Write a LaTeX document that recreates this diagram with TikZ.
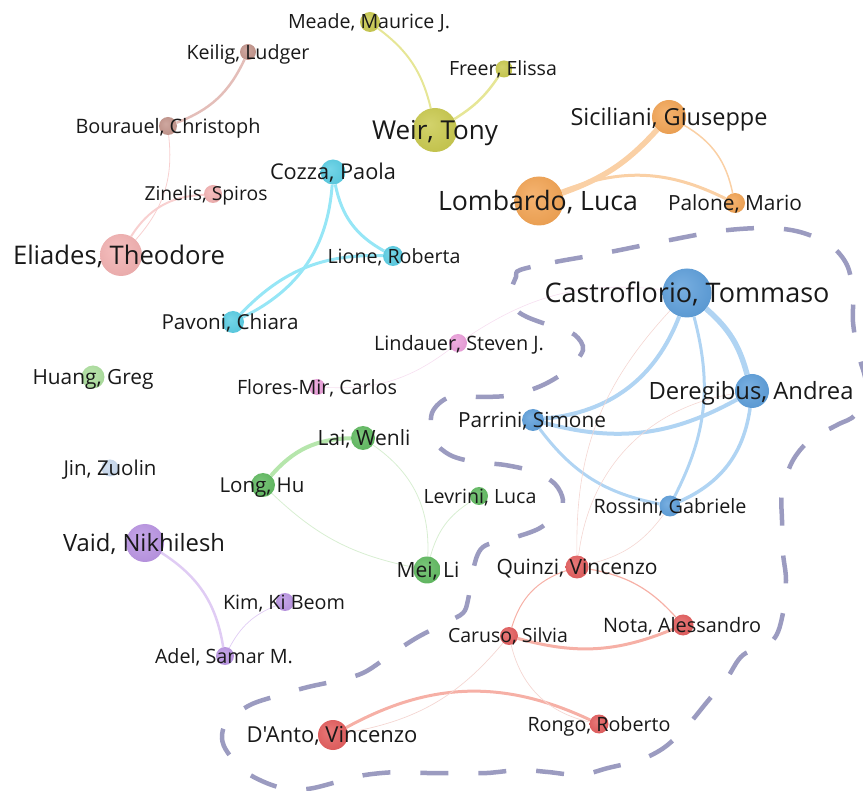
\documentclass[tikz,border=0pt]{standalone}
\usepackage{fontspec}
\setmainfont{Open Sans}[Ligatures=TeXOff]
\definecolor{cYel}{RGB}{198,198,66}
\definecolor{cYelE}{RGB}{230,230,150}
\definecolor{cBrn}{RGB}{192,142,132}
\definecolor{cBrnE}{RGB}{228,190,185}
\definecolor{cPnk}{RGB}{242,172,172}
\definecolor{cPnkE}{RGB}{248,208,208}
\definecolor{cCyn}{RGB}{78,202,226}
\definecolor{cCynE}{RGB}{150,230,246}
\definecolor{cOrg}{RGB}{242,158,72}
\definecolor{cOrgE}{RGB}{250,208,165}
\definecolor{cBlu}{RGB}{82,152,216}
\definecolor{cBluE}{RGB}{176,212,243}
\definecolor{cMag}{RGB}{234,152,216}
\definecolor{cMagE}{RGB}{246,222,240}
\definecolor{cLgr}{RGB}{168,222,152}
\definecolor{cGrn}{RGB}{86,182,86}
\definecolor{cGrnE}{RGB}{182,230,172}
\definecolor{cGrnF}{RGB}{216,238,210}
\definecolor{cLbl}{RGB}{198,216,238}
\definecolor{cPur}{RGB}{182,142,226}
\definecolor{cPurE}{RGB}{224,204,244}
\definecolor{cRed}{RGB}{226,82,82}
\definecolor{cRedE}{RGB}{246,176,166}
\definecolor{cRedF}{RGB}{244,214,210}
\definecolor{cHull}{RGB}{155,155,192}
\definecolor{cTxt}{RGB}{25,25,25}
\colorlet{bubin}{white}
\colorlet{bubout}{black}
\pgfdeclareradialshading[bubin,bubout]{bubsh}{\pgfpoint{-7bp}{7bp}}{color(0bp)=(bubin); color(42bp)=(bubout); color(50bp)=(bubout)}
\pgfdeclarelayer{edges}
\pgfsetlayers{edges,main}
\tikzset{
  bub/.style={circle, inner sep=0pt, minimum size=#1},
  sh/.style={/utils/exec={\colorlet{bubin}{#1!78!white}\colorlet{bubout}{#1!94!black}}, shading=bubsh},
  lbl/.style={inner sep=0pt, text=cTxt},
  lnk/.style={line width=#1},
  hull/.style={draw=cHull, line width=4.5pt, dash pattern=on 28pt off 30pt}
}
\newlength\lblw
% measure: key, target width, text
\newcommand\mkfs[3]{%
  \settowidth\lblw{\fontsize{20pt}{24pt}\selectfont #3}%
  \pgfmathsetmacro\tmpfs{20*#2/\lblw}%
  \expandafter\xdef\csname fs@#1\endcsname{\tmpfs}}
% label: key, x, y, text
\newcommand\lbl[4]{%
  \edef\lblfs{\csname fs@#1\endcsname}%
  \pgfmathsetmacro\lbly{#3+0.357*\lblfs}%
  \node[lbl, font=\fontsize{\lblfs pt}{\lblfs pt}\selectfont, anchor=base] (t#1) at (#2,\lbly) {#4};}
\begin{document}
\mkfs{meade}{162}{Meade, Maurice J.}%
\mkfs{keilig}{123}{Keilig, Ludger}%
\mkfs{weir}{126}{Weir, Tony}%
\mkfs{freer}{108}{Freer, Elissa}%
\mkfs{bour}{185}{Bourauel, Christoph}%
\mkfs{sic}{197}{Siciliani, Giuseppe}%
\mkfs{cozza}{126}{Cozza, Paola}%
\mkfs{zin}{123}{Zinelis, Spiros}%
\mkfs{lomb}{200}{Lombardo, Luca}%
\mkfs{pal}{134}{Palone, Mario}%
\mkfs{eli}{212}{Eliades, Theodore}%
\mkfs{lione}{133}{Lione, Roberta}%
\mkfs{cast}{285}{Castroflorio, Tommaso}%
\mkfs{pav}{137}{Pavoni, Chiara}%
\mkfs{lind}{170}{Lindauer, Steven J.}%
\mkfs{huang}{121}{Huang, Greg}%
\mkfs{flor}{160}{Flores-Mir, Carlos}%
\mkfs{dere}{205}{Deregibus, Andrea}%
\mkfs{parr}{148}{Parrini, Simone}%
\mkfs{lai}{93}{Lai, Wenli}%
\mkfs{jin}{93}{Jin, Zuolin}%
\mkfs{long}{85}{Long, Hu}%
\mkfs{lev}{113}{Levrini, Luca}%
\mkfs{ross}{153}{Rossini, Gabriele}%
\mkfs{vaid}{162}{Vaid, Nikhilesh}%
\mkfs{mei}{63}{Mei, Li}%
\mkfs{quin}{161}{Quinzi, Vincenzo}%
\mkfs{kim}{122}{Kim, Ki Beom}%
\mkfs{nota}{158}{Nota, Alessandro}%
\mkfs{car}{120}{Caruso, Silvia}%
\mkfs{adel}{138}{Adel, Samar M.}%
\mkfs{dant}{171}{D'Anto, Vincenzo}%
\mkfs{rongo}{143}{Rongo, Roberto}%
\begin{tikzpicture}[x=1pt,y=-1pt]
\useasboundingbox (0,0) rectangle (863,791);
% bubbles
\node[bub=20, sh=cYel] (meade) at (370,22) {};
\node[bub=16, sh=cBrn] (keilig) at (248,52) {};
\node[bub=44, sh=cYel] (weir) at (435,130) {};
\node[bub=17, sh=cYel] (freer) at (504,69) {};
\node[bub=18, sh=cBrn] (bour) at (168,126) {};
\node[bub=34, sh=cOrg] (sic) at (669,117) {};
\node[bub=25, sh=cCyn] (cozza) at (333,172) {};
\node[bub=18, sh=cPnk] (zin) at (213,194) {};
\node[bub=49, sh=cOrg] (lomb) at (539,201) {};
\node[bub=20, sh=cOrg] (pal) at (735,203) {};
\node[bub=42, sh=cPnk] (eli) at (121,255) {};
\node[bub=20, sh=cCyn] (lione) at (393,256) {};
\node[bub=49, sh=cBlu] (cast) at (687,293) {};
\node[bub=22, sh=cCyn] (pav) at (233,322) {};
\node[bub=18, sh=cMag] (lind) at (458,343) {};
\node[bub=23, sh=cLgr] (huang) at (93,377) {};
\node[bub=16, sh=cMag] (flor) at (317,387) {};
\node[bub=34, sh=cBlu] (dere) at (752,391) {};
\node[bub=22, sh=cBlu] (parr) at (533,420) {};
\node[bub=24, sh=cGrn] (lai) at (363,438) {};
\node[bub=17, sh=cLbl] (jin) at (110,468) {};
\node[bub=24, sh=cGrn] (long) at (263,485) {};
\node[bub=18, sh=cGrn] (lev) at (479,496) {};
\node[bub=21, sh=cBlu] (ross) at (670,506) {};
\node[bub=38, sh=cPur] (vaid) at (145,543) {};
\node[bub=27, sh=cGrn] (mei) at (427,570) {};
\node[bub=23, sh=cRed] (quin) at (577,567) {};
\node[bub=18, sh=cPur] (kim) at (285,602) {};
\node[bub=21, sh=cRed] (nota) at (683,625) {};
\node[bub=18, sh=cRed] (car) at (509,636) {};
\node[bub=18, sh=cPur] (adel) at (225,656) {};
\node[bub=30, sh=cRed] (dant) at (333,735) {};
\node[bub=19, sh=cRed] (rongo) at (599,724) {};
% labels
\lbl{meade}{369}{22}{Meade, Maurice J.}
\lbl{keilig}{248}{52}{Keilig, Ludger}
\lbl{weir}{435}{130}{Weir, Tony}
\lbl{freer}{503}{69}{Freer, Elissa}
\lbl{bour}{168}{126}{Bourauel, Christoph}
\lbl{sic}{669}{117}{Siciliani, Giuseppe}
\lbl{cozza}{333}{172}{Cozza, Paola}
\lbl{zin}{206}{194}{Zinelis, Spiros}
\lbl{lomb}{538}{201}{Lombardo, Luca}
\lbl{pal}{735}{203}{Palone, Mario}
\lbl{eli}{119}{255}{Eliades, Theodore}
\lbl{lione}{394}{256}{Lione, Roberta}
\lbl{cast}{687}{293}{Castroflorio, Tommaso}
\lbl{pav}{230}{322}{Pavoni, Chiara}
\lbl{lind}{459}{343}{Lindauer, Steven J.}
\lbl{huang}{93}{377}{Huang, Greg}
\lbl{flor}{317}{387}{Flores-Mir, Carlos}
\lbl{dere}{751}{391}{Deregibus, Andrea}
\lbl{parr}{532}{420}{Parrini, Simone}
\lbl{lai}{364}{438}{Lai, Wenli}
\lbl{jin}{110}{468}{Jin, Zuolin}
\lbl{long}{262}{485}{Long, Hu}
\lbl{lev}{480}{496}{Levrini, Luca}
\lbl{ross}{670}{506}{Rossini, Gabriele}
\lbl{vaid}{144}{543}{Vaid, Nikhilesh}
\lbl{mei}{428}{570}{Mei, Li}
\lbl{quin}{577}{567}{Quinzi, Vincenzo}
\lbl{kim}{284}{602}{Kim, Ki Beom}
\lbl{nota}{682}{625}{Nota, Alessandro}
\lbl{car}{508}{636}{Caruso, Silvia}
\lbl{adel}{224}{656}{Adel, Samar M.}
\lbl{dant}{332}{735}{D'Anto, Vincenzo}
\lbl{rongo}{599}{724}{Rongo, Roberto}
\begin{pgfonlayer}{edges}
% yellow
\draw[lnk=2, cYelE] (meade) to[bend left=20] (weir);
\draw[lnk=2.5, cYelE] (freer) to[bend left=12] (weir);
% brown / pink
\draw[lnk=2.5, cBrnE] (keilig) to[bend left=22] (bour);
\draw[lnk=2, cPnkE] (zin) to[bend right=28] (eli);
\draw[lnk=0.8, cPnkE] (bour) to[bend left=24] (eli);
% cyan
\draw[lnk=3, cCynE] (cozza) to[bend left=30] (pav);
\draw[lnk=3, cCynE] (cozza) to[bend right=25] (lione);
\draw[lnk=3, cCynE] (lione) to[bend right=24] (pav);
% orange
\draw[lnk=5.5, cOrgE] (lomb) to[bend right=14] (sic);
\draw[lnk=3, cOrgE] (lomb) to[bend left=24] (pal);
\draw[lnk=1.5, cOrgE] (sic) to[bend left=24] (pal);
% blue
\draw[lnk=5.5, cBluE] (cast) to[bend left=17] (dere);
\draw[lnk=4, cBluE] (cast) to[bend left=32] (parr);
\draw[lnk=3, cBluE] (cast) to[bend left=21] (ross);
\draw[lnk=4, cBluE] (parr) to[bend right=22] (dere);
\draw[lnk=3, cBluE] (parr) to[bend right=21] (ross);
\draw[lnk=3.5, cBluE] (dere) to[bend left=29] (ross);
% faint cross links
\draw[lnk=0.6, cMagE] (cast) to[bend right=20] (lind);
\draw[lnk=0.6, cMagE] (lind) to[bend left=20] (flor);
\draw[lnk=0.6, cRedF] (cast) to[bend right=22] (quin);
\draw[lnk=0.6, cRedF] (dere) to[bend right=37] (quin);
\draw[lnk=0.6, cRedF] (quin) to[bend right=20] (ross);
% red
\draw[lnk=1, cRedE] (quin) to[bend right=27] (car);
\draw[lnk=1.2, cRedE] (quin) to[bend left=19] (nota);
\draw[lnk=3, cRedE] (car) to[bend right=19] (nota);
\draw[lnk=3, cRedE] (dant) to[bend left=27] (rongo);
\draw[lnk=0.7, cRedF] (car) to[bend left=20] (dant);
\draw[lnk=0.7, cRedF] (car) to[bend right=32] (rongo);
% purple
\draw[lnk=2.5, cPurE] (vaid) to[bend left=24] (adel);
\draw[lnk=0.7, cPurE] (kim) to[bend right=20] (adel);
% green
\draw[lnk=4, cGrnE] (lai) to[bend right=24] (long);
\draw[lnk=0.8, cGrnF] (lai) to[bend left=29] (mei);
\draw[lnk=0.8, cGrnF] (long) to[bend right=16] (mei);
\draw[lnk=0.8, cGrnF] (lev) to[bend right=21] (mei);
% cluster hull
\begin{scope}
\clip (0,0) rectangle (863,791);
\draw[hull] plot[smooth cycle, tension=0.55] coordinates {
(520,270) (555,262) (600,254) (660,242) (720,231) (767,228) (800,232) (830,245)
(847,265) (853,293) (853,322) (858,353) (866,385) (856,414) (837,425) (810,440)
(792,462) (782,493) (782,520) (783,553) (786,580) (783,613) (773,640) (743,655)
(727,678) (707,702) (688,725) (665,747) (640,760) (608,768) (580,775) (548,772)
(520,770) (487,773) (458,773) (427,773) (398,772) (365,775) (337,782) (307,789)
(278,787) (247,773) (228,753) (222,738) (227,722) (250,705) (280,695) (308,687)
(340,680) (365,672) (393,653) (418,637) (447,622) (463,613) (468,600) (473,570)
(483,547) (513,538) (540,528) (558,512) (563,500) (555,484) (535,472) (505,465)
(475,462) (450,455) (434,440) (432,413) (450,397) (483,397) (513,395) (543,385)
(567,370) (583,350) (575,335) (557,328) (527,317) (515,308) (511,292) (516,277)};
\end{scope}
\end{pgfonlayer}
\end{tikzpicture}
\end{document}
